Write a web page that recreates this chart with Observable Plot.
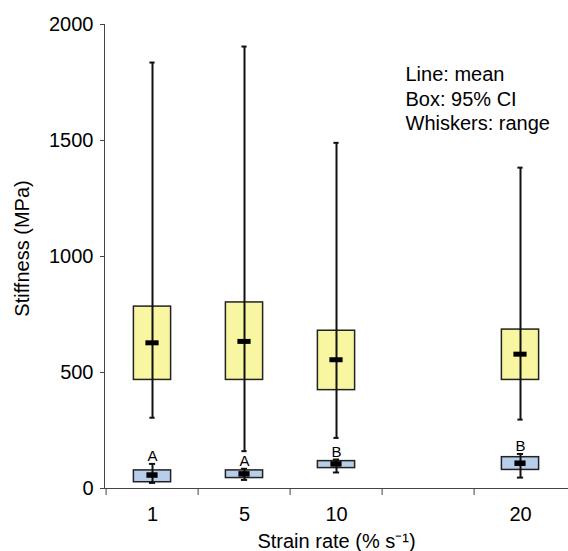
<!DOCTYPE html>
<html>
<head>
<meta charset="utf-8">
<script src="https://cdn.jsdelivr.net/npm/d3@7"></script>
<script src="https://cdn.jsdelivr.net/npm/@observablehq/plot@0.6"></script>
<style>
  html, body { margin: 0; padding: 0; background: #fff; }
  #chart svg { display: block; }
</style>
</head>
<body>
<div id="chart"></div>
<script>
// Category slots on the x axis (15 is an empty slot)
const xSlots = ["1", "5", "10", "15", "20"];
const strainRates = ["1", "5", "10", "20"];
const yTicks = [0, 500, 1000, 1500, 2000];

// Upper (yellow) series
const upperMin    = [305, 161, 218, 297];
const upperMax    = [1836, 1905, 1490, 1383];
const upperCiLow  = [468, 468, 424, 468];
const upperCiHigh = [784, 802, 680, 685];
const upperMean   = [628, 634, 555, 579];

// Lower (blue) series
const lowerMin    = [24, 37, 69, 47];
const lowerMax    = [106, 85, 125, 149];
const lowerCiLow  = [27, 45, 88, 80];
const lowerCiHigh = [78, 78, 118, 135];
const lowerMean   = [58, 63, 106, 109];
const lowerLetters = ["A", "A", "B", "B"];

const legendLines = ["Line: mean", "Box: 95% CI", "Whiskers: range"];

const upper = strainRates.map((r, i) => ({rate: r, min: upperMin[i], max: upperMax[i], lo: upperCiLow[i], hi: upperCiHigh[i], mean: upperMean[i]}));
const lower = strainRates.map((r, i) => ({rate: r, min: lowerMin[i], max: lowerMax[i], lo: lowerCiLow[i], hi: lowerCiHigh[i], mean: lowerMean[i], letter: lowerLetters[i]}));

const W = 568, H = 551, mL = 104, mR = 0, mT = 24, mB = 63;
const bw = (W - mL - mR) / xSlots.length;
const inset = w => (bw - w) / 2;
const FS = 20;

const plot = Plot.plot({
  width: W, height: H,
  marginLeft: mL, marginRight: mR, marginTop: mT, marginBottom: mB,
  style: {fontFamily: "'Liberation Sans', Arial, sans-serif", fontSize: FS + "px", background: "#fff", color: "#000"},
  x: {type: "band", domain: xSlots, padding: 0, axis: null},
  y: {domain: [0, 2000], axis: null},
  marks: [
    // axes
    Plot.axisY({ticks: yTicks, tickFormat: d => String(d), tickSize: 4, tickPadding: 7, fontSize: FS, label: null, stroke: "#444"}),
    Plot.axisX({ticks: strainRates, tickSize: 0, tickPadding: 18, fontSize: FS, label: null}),
    Plot.axisX({ticks: xSlots, tickSize: 7, tickFormat: () => "", dx: -bw / 2, label: null, stroke: "#444"}),
    Plot.frame({anchor: "left", stroke: "#444"}),
    Plot.frame({anchor: "bottom", stroke: "#444"}),
    // upper series
    Plot.barY(upper, {x: "rate", y1: "lo", y2: "hi", fill: "#f9f6a1", stroke: "#222", strokeWidth: 1.5, insetLeft: inset(38), insetRight: inset(38)}),
    Plot.ruleX(upper, {x: "rate", y1: "min", y2: "max", stroke: "#111", strokeWidth: 2}),
    Plot.tickY(upper, {x: "rate", y: "max", stroke: "#111", strokeWidth: 2, insetLeft: inset(6), insetRight: inset(6)}),
    Plot.tickY(upper, {x: "rate", y: "min", stroke: "#111", strokeWidth: 2, insetLeft: inset(6), insetRight: inset(6)}),
    Plot.tickY(upper, {x: "rate", y: "mean", stroke: "#000", strokeWidth: 5, insetLeft: inset(14), insetRight: inset(14)}),
    // lower series
    Plot.barY(lower, {x: "rate", y1: "lo", y2: "hi", fill: "#b7cde9", stroke: "#222", strokeWidth: 1.5, insetLeft: inset(38), insetRight: inset(38)}),
    Plot.ruleX(lower, {x: "rate", y1: "min", y2: "max", stroke: "#111", strokeWidth: 2}),
    Plot.tickY(lower, {x: "rate", y: "max", stroke: "#111", strokeWidth: 2, insetLeft: inset(7), insetRight: inset(7)}),
    Plot.tickY(lower, {x: "rate", y: "min", stroke: "#111", strokeWidth: 2, insetLeft: inset(7), insetRight: inset(7)}),
    Plot.tickY(lower, {x: "rate", y: "mean", stroke: "#000", strokeWidth: 5.5, insetLeft: inset(12), insetRight: inset(12)}),
    Plot.text(lower, {x: "rate", y: "max", text: "letter", lineAnchor: "bottom", dy: -3, fontSize: 15, fill: "#000"}),
    // legend text
    Plot.text([legendLines.join("\n")], {frameAnchor: "top-right", textAnchor: "start", lineAnchor: "top", dx: -163, dy: 39.5, lineHeight: 1.215, fontSize: FS, fill: "#000"}),
    // axis labels
    Plot.text(["Stiffness (MPa)"], {frameAnchor: "left", textAnchor: "middle", lineAnchor: "middle", rotate: -90, dx: -82, dy: -8, fontSize: FS, fill: "#000"}),
    Plot.text(["Strain rate (% s⁻¹)"], {frameAnchor: "bottom", textAnchor: "middle", lineAnchor: "middle", dy: 53, fontSize: FS, fill: "#000"})
  ]
});
document.getElementById("chart").appendChild(plot);
</script>
</body>
</html>
